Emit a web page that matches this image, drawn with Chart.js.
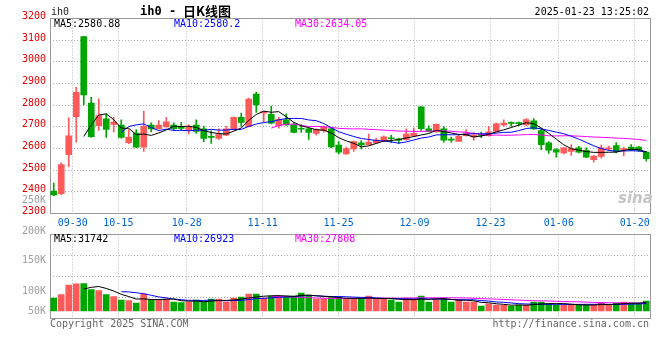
<!DOCTYPE html>
<html lang="zh-CN">
<head>
<meta charset="utf-8">
<title>ih0 日K线图</title>
<script src="https://cdn.jsdelivr.net/npm/chart.js@4.4.1/dist/chart.umd.min.js"></script>
<style>
html,body{margin:0;padding:0;background:#fff;}
#wrap{position:relative;width:660px;height:360px;overflow:hidden;font-family:'DejaVu Sans Mono',monospace;font-size:10px;}
canvas{position:absolute;left:0;}
#kline{top:0;}
#volume{top:228px;}
.t{position:absolute;white-space:nowrap;line-height:12px;}
.g{color:#a0a0a0;right:614px;}
</style>
</head>
<body>
<div id="wrap">
  <canvas id="kline" width="660" height="232"></canvas>
  <canvas id="volume" width="660" height="96"></canvas>

  <div class="t" style="left:51px;top:6px;color:#222;">ih0</div>
  <div class="t" style="left:140px;top:5px;color:#000;font-size:12px;font-weight:bold;">ih0 -</div>
  <div class="t" style="left:183px;top:4px;color:#000;font-size:13px;line-height:14px;font-weight:bold;font-family:'Noto Sans CJK SC',sans-serif;">日K线图</div>
  <div class="t" style="right:11px;top:6px;color:#000;">2025-01-23 13:25:02</div>

  <div class="t" style="left:54px;top:18px;color:#000;">MA5:2580.88</div>
  <div class="t" style="left:174px;top:18px;color:#0000ff;">MA10:2580.2</div>
  <div class="t" style="left:295px;top:18px;color:#ff00ff;">MA30:2634.05</div>

  <div class="t" style="left:54px;top:233px;color:#000;">MA5:31742</div>
  <div class="t" style="left:174px;top:233px;color:#0000ff;">MA10:26923</div>
  <div class="t" style="left:295px;top:233px;color:#ff00ff;">MA30:27808</div>

  <div class="t g" style="top:194px;">250K</div>
  <div class="t g" style="top:225px;">200K</div>
  <div class="t g" style="top:254px;">150K</div>
  <div class="t g" style="top:285px;">100K</div>
  <div class="t g" style="top:305px;">50K</div>

  <div class="t" style="left:618px;top:190px;color:#c4c4c4;font-family:'DejaVu Sans',sans-serif;font-style:italic;font-weight:bold;font-size:15px;line-height:16px;">sina</div>

  <div class="t" style="left:50px;top:318px;color:#666;">Copyright 2025 SINA.COM</div>
  <div class="t" style="right:11px;top:318px;color:#666;">http://finance.sina.com.cn</div>
</div>
<script>
// ---- data ----
const dates = ['09-25','09-26','09-27','09-30','10-08','10-09','10-10','10-11','10-14','10-15',
  '10-16','10-17','10-18','10-21','10-22','10-23','10-24','10-25','10-28','10-29',
  '10-30','10-31','11-01','11-04','11-05','11-06','11-07','11-08','11-11','11-12',
  '11-13','11-14','11-15','11-18','11-19','11-20','11-21','11-22','11-25','11-26',
  '11-27','11-28','11-29','12-02','12-03','12-04','12-05','12-06','12-09','12-10',
  '12-11','12-12','12-13','12-16','12-17','12-18','12-19','12-20','12-23','12-24',
  '12-25','12-26','12-27','12-30','12-31','01-02','01-03','01-06','01-07','01-08',
  '01-09','01-10','01-13','01-14','01-15','01-16','01-17','01-20','01-21','01-22'];

const openP = [2403,2391,2572,2747,3116,2810,2705,2737,2711,2708,
  2627,2671,2606,2708,2691,2700,2708,2697,2685,2708,
  2691,2655,2647,2662,2687,2744,2702,2851,2764,2758,
  2705,2732,2709,2692,2691,2670,2682,2691,2616,2575,
  2598,2626,2618,2626,2636,2648,2642,2641,2659,2792,
  2691,2677,2691,2642,2633,2659,2653,2663,2659,2679,
  2709,2718,2718,2709,2728,2683,2626,2595,2580,2587,
  2603,2592,2548,2563,2598,2613,2595,2606,2606,2583];
const highP = [2440,2534,2741,2882,3116,2836,2829,2760,2744,2732,
  2687,2687,2773,2718,2729,2744,2718,2721,2709,2732,
  2703,2682,2691,2702,2746,2763,2833,2860,2772,2796,
  2744,2760,2718,2709,2693,2691,2703,2696,2632,2607,
  2634,2636,2667,2648,2659,2662,2648,2691,2694,2794,
  2705,2714,2702,2653,2663,2687,2674,2676,2702,2717,
  2732,2723,2723,2738,2738,2693,2632,2600,2605,2618,
  2610,2603,2568,2616,2611,2627,2607,2618,2610,2587];
const lowP = [2382,2386,2516,2629,2801,2651,2683,2651,2676,2648,
  2622,2604,2587,2677,2689,2698,2683,2683,2667,2670,
  2632,2624,2642,2659,2686,2702,2700,2766,2722,2714,
  2694,2707,2672,2674,2642,2662,2674,2603,2575,2573,
  2587,2598,2616,2624,2634,2627,2624,2638,2656,2683,
  2677,2675,2629,2629,2632,2657,2638,2650,2657,2677,
  2702,2702,2705,2707,2688,2595,2577,2560,2575,2568,
  2580,2558,2537,2555,2590,2580,2566,2590,2587,2542];
const closeP = [2386,2526,2659,2859,2847,2655,2752,2688,2722,2651,
  2653,2606,2702,2690,2708,2723,2691,2693,2700,2679,
  2647,2651,2667,2691,2744,2720,2828,2801,2770,2717,
  2735,2709,2674,2689,2674,2687,2699,2607,2583,2600,
  2632,2616,2630,2639,2654,2645,2639,2667,2670,2691,
  2679,2712,2638,2639,2656,2671,2662,2660,2677,2714,
  2717,2716,2715,2734,2690,2618,2592,2583,2603,2600,
  2583,2560,2565,2603,2603,2586,2600,2592,2592,2553];
const volume = [47000,59000,94100,98800,99000,77800,73500,59000,51800,39800,
  37300,29000,61500,39800,39800,43400,32600,30800,32600,39800,
  32600,43400,43400,32600,47000,50700,61500,61500,47000,54300,
  54300,54300,54300,65200,57900,43400,43400,48900,48900,43400,
  43400,43400,54300,43400,43400,39800,32600,47000,43400,54300,
  32600,43400,47000,32600,39800,32600,32600,18100,26400,21700,
  21700,18100,21700,21700,32600,32600,25300,21700,21700,21700,
  21700,21700,21700,29000,21700,29000,32600,29000,29000,36200];

const tickDates = ['09-30','10-15','10-28','11-11','11-25','12-09','12-23','01-06','01-20'];
const priceMin = 2300, priceMax = 3200, priceStep = 100;
const maPeriods = [5, 10, 30];

// ---- styling ----
const RED = '#ff5a5a', GREEN = '#00a600';
const MA_COLORS = ['#000000', '#0000ff', '#ff00ff'];
const GRID = '#b0b0b0';
const FONT = {family: "'DejaVu Sans Mono', monospace", size: 10};

function movingAverage(src, n) {
  return src.map((_, i) => {
    if (i < n - 1) return null;
    let s = 0;
    for (let j = i - n + 1; j <= i; j++) s += src[j];
    return s / n;
  });
}

const candleColor = closeP.map((c, i) => c >= openP[i] ? RED : GREEN);

const framePlugin = {
  id: 'frame',
  beforeDatasetsDraw(chart) {
    const {ctx, chartArea: a} = chart;
    const x0 = Math.floor(a.left) + 0.5, x1 = Math.floor(a.right) + 0.5;
    const y0 = Math.floor(a.top) + 0.5, y1 = Math.floor(a.bottom) + 0.5;
    ctx.save();
    ctx.strokeStyle = '#9a9a9a';
    ctx.lineWidth = 1;
    ctx.setLineDash([]);
    ctx.strokeRect(x0, y0, x1 - x0, y1 - y0);
    ctx.restore();
  }
};

function dateAxis(showLabels, height) {
  return {
    type: 'linear', position: 'bottom', offset: false,
    min: 0, max: dates.length - 1,
    afterBuildTicks: s => { s.ticks = tickDates.map(d => ({value: dates.indexOf(d)})); },
    afterFit: s => { s.height = height; },
    grid: {color: GRID, lineWidth: 1, drawTicks: false, offset: false},
    border: {display: false, dash: [1, 2]},
    ticks: {display: showLabels, autoSkip: false, maxRotation: 0, padding: 4,
      color: '#0066cc', font: FONT, callback: v => dates[v] ?? ''}
  };
}

function maLines(src, width) {
  return maPeriods.map((n, k) => ({
    type: 'line', label: 'MA' + n, data: movingAverage(src, n),
    borderColor: MA_COLORS[k], borderWidth: width, pointRadius: 0, tension: 0,
    spanGaps: false, order: 0, xAxisID: 'x'
  }));
}

// ---- price chart ----
new Chart(document.getElementById('kline'), {
  type: 'bar',
  data: {
    labels: dates,
    datasets: [
      ...maLines(closeP, 1).map(d => ({...d, yAxisID: 'y'})),
      {label: 'wick', data: lowP.map((l, i) => [l, highP[i]]), backgroundColor: candleColor,
       barThickness: 1, grouped: false, order: 2, xAxisID: 'x', yAxisID: 'y'},
      {label: 'body', data: openP.map((o, i) => [o, closeP[i]]), backgroundColor: candleColor,
       barThickness: 6, minBarLength: 1, grouped: false, order: 1, xAxisID: 'x', yAxisID: 'y'}
    ]
  },
  options: {
    responsive: false, animation: false, events: [],
    layout: {padding: {top: 18.5, right: 10, left: 0, bottom: 0}},
    plugins: {legend: {display: false}, tooltip: {enabled: false}, title: {display: false}},
    scales: {
      x: {type: 'category', display: false, offset: true},
      xd: dateAxis(true, 18.5),
      y: {
        min: priceMin, max: priceMax,
        afterFit: s => { s.width = 50; },
        ticks: {stepSize: priceStep, color: '#e00000', font: FONT, padding: 4, labelOffset: -2,
                callback: v => String(v)},
        grid: {color: GRID, drawTicks: false},
        border: {display: false, dash: [1, 2]}
      }
    }
  },
  plugins: [framePlugin]
});

// ---- volume chart ----
new Chart(document.getElementById('volume'), {
  type: 'bar',
  data: {
    labels: dates,
    datasets: [
      ...maLines(volume, 1).map(d => ({...d, yAxisID: 'yv'})),
      {label: 'volume', data: volume, backgroundColor: candleColor, barThickness: 6,
       order: 1, xAxisID: 'x', yAxisID: 'yv'}
    ]
  },
  options: {
    responsive: false, animation: false, events: [],
    layout: {padding: {top: 6.5, right: 10, left: 0, bottom: 0}},
    plugins: {legend: {display: false}, tooltip: {enabled: false}},
    scales: {
      x: {type: 'category', display: false, offset: true},
      xd: dateAxis(false, 6),
      yv: {display: false, min: -25340, max: 276930},
      yg: {
        position: 'left', min: 0, max: 4,
        afterFit: s => { s.width = 50; },
        ticks: {display: false, stepSize: 1},
        grid: {color: GRID, drawTicks: false},
        border: {display: false, dash: [1, 2]}
      }
    }
  },
  plugins: [framePlugin]
});
</script>
</body>
</html>
